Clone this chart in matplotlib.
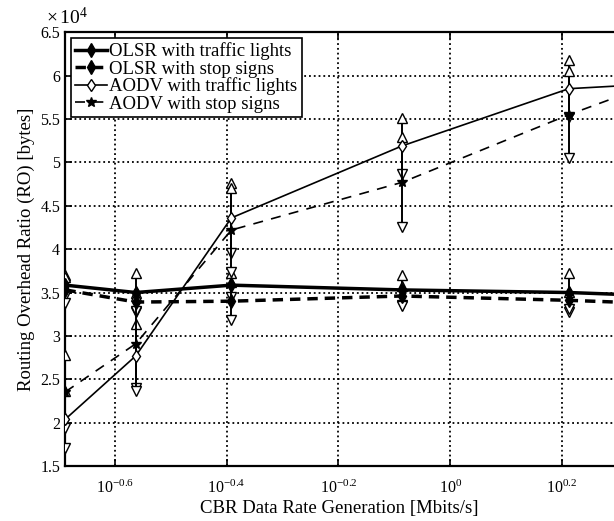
import numpy as np
import matplotlib
matplotlib.use('Agg')
import matplotlib.pyplot as plt
from matplotlib.ticker import FuncFormatter, NullLocator

plt.rcParams['font.family'] = 'Liberation Serif'
plt.rcParams['mathtext.fontset'] = 'custom'
plt.rcParams['mathtext.rm'] = 'Liberation Serif'
plt.rcParams['mathtext.it'] = 'Liberation Serif:italic'

# CBR data rate [Mbits/s] (last point lies beyond the visible range)
rate = [0.205, 0.274, 0.406, 0.82, 1.63, 2.4]

# routing overhead [bytes]
olsr_tl = [35850, 35000, 35850, 35300, 35000, 34600]
olsr_ss = [35300, 33900, 34000, 34600, 34100, 33700]
aodv_tl = [20400, 27700, 43600, 51900, 58500, 59100]
aodv_ss = [23550, 29100, 42200, 47700, 55500, 59500]

# half-width of the variation bars
olsr_tl_err = [1200, 2200, 1400, 1700, 2200, 2000]
olsr_ss_err = [1500, 1000, 2200, 1200, 1000, 1000]
aodv_tl_err = [3300, 3700, 4000, 3200, 3300, 3000]
aodv_ss_err = [4200, 5500, 4800, 5200, 5000, 5000]

labels = ['OLSR with traffic lights', 'OLSR with stop signs',
          'AODV with traffic lights', 'AODV with stop signs']
xtick_pos = [-0.6, -0.4, -0.2, 0.0, 0.2]
xtick_lab = ['$10^{-0.6}$', '$10^{-0.4}$', '$10^{-0.2}$', '$10^{0}$', '$10^{0.2}$']

fig = plt.figure(figsize=(6.14, 5.21), dpi=100)
ax = fig.add_axes([65/614, 1-466/521, 1-65/614, (466-32.3)/521])
ax.set_xscale('log')

x = np.array(rate)
for y, e in [(olsr_tl, olsr_tl_err), (olsr_ss, olsr_ss_err),
             (aodv_tl, aodv_tl_err), (aodv_ss, aodv_ss_err)]:
    y = np.array(y)
    e = np.array(e)
    ax.vlines(x, y - e, y + e, color='k', lw=1.4, zorder=3)
    ax.plot(x, y + e, '^', ms=6.5, mfc='white', mec='k', mew=1.0, zorder=3)
    ax.plot(x, y - e, 'v', ms=6.5, mfc='white', mec='k', mew=1.0, zorder=3)

h1, = ax.plot(x, olsr_tl, '-', color='k', lw=2.5, marker='d', ms=7, mfc='k', zorder=4)
h2, = ax.plot(x, olsr_ss, '--', color='k', lw=2.5, dashes=(3, 2), marker='d', ms=7, mfc='k', zorder=4)
h3, = ax.plot(x, aodv_tl, '-', color='k', lw=1.2, marker='d', ms=6, mfc='white', zorder=4)
h4, = ax.plot(x, aodv_ss, '--', color='k', lw=1.2, dashes=(6, 5), marker='*', ms=7, mfc='k', zorder=4)

ax.set_xlim(0.2047, 1.963)
ax.set_ylim(15000, 65000)
ax.set_xticks([10 ** v for v in xtick_pos])
ax.set_xticklabels(xtick_lab)
ax.xaxis.set_minor_locator(NullLocator())
ax.set_yticks(np.arange(15000, 65001, 5000))
ax.yaxis.set_major_formatter(FuncFormatter(lambda v, p: '%g' % (v / 1e4)))

ax.grid(True, which='major', color='k', linestyle=':', lw=1.3)
ax.tick_params(direction='in', top=True, length=5, width=1.2, labelsize=11.5)
ax.tick_params(axis='x', pad=10)
for s in ['left', 'bottom', 'top']:
    ax.spines[s].set_linewidth(1.6)
ax.spines['right'].set_visible(False)

ax.set_xlabel('CBR Data Rate Generation [Mbits/s]', fontsize=13.5, labelpad=2)
ax.set_ylabel('Routing Overhead Ratio (RO) [bytes]', fontsize=13.5)
fig.text(46/614, 1-17/521, r'$\times\,10^{4}$', fontsize=14, va='center')

leg = ax.legend([h1, h2, h3, h4], labels, loc='upper left', fontsize=13.5,
                handlelength=1.7, handletextpad=0.1, labelspacing=0.0,
                borderaxespad=0.3, borderpad=0.25, fancybox=False, framealpha=1)
leg.get_frame().set_edgecolor('k')
leg.get_frame().set_linewidth(1.2)

fig.savefig('out.png', dpi=100)
